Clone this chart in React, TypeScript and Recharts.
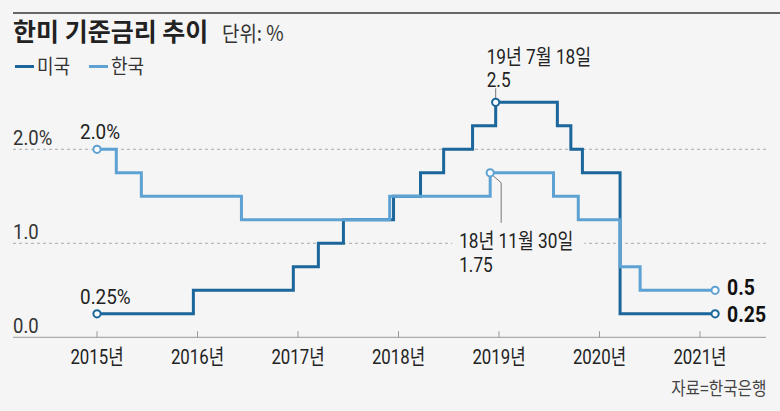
import React from "react";
import { LineChart, Line, XAxis, YAxis, CartesianGrid } from "recharts";

const usDates = ["2015-01-01", "2015-12-17", "2016-12-15", "2017-03-16", "2017-06-15", "2017-12-14", "2018-03-22", "2018-06-14", "2018-09-27", "2018-12-20", "2019-08-01", "2019-09-19", "2019-10-31", "2020-03-16", "2021-02-25"];
const usRates = [0.25, 0.5, 0.75, 1.0, 1.25, 1.5, 1.75, 2.0, 2.25, 2.5, 2.25, 2.0, 1.75, 0.25, 0.25];

const krDates = ["2015-01-01", "2015-03-12", "2015-06-11", "2016-06-09", "2017-11-30", "2018-11-30", "2019-07-18", "2019-10-16", "2020-03-16", "2020-05-28", "2021-02-25"];
const krRates = [2.0, 1.75, 1.5, 1.25, 1.5, 1.75, 1.5, 1.25, 0.75, 0.5, 0.5];

const yearTicks = [2015, 2016, 2017, 2018, 2019, 2020, 2021];
const yTicks = [0, 1, 2];
const yTickLabels = ["0.0", "1.0", "2.0%"];

const usName = "미국";
const krName = "한국";
const usPeakIndex = 9;
const krPeakIndex = 5;
const usPeakLabel = ["19년 7월 18일", "2.5"];
const krPeakLabel = ["18년 11월 30일", "1.75"];
const usStartLabel = "0.25%";
const krStartLabel = "2.0%";
const usEndLabelText = "0.25";
const krEndLabelText = "0.5";

const BG = "#f5f5f5";
const US_COLOR = "#1b669b";
const KR_COLOR = "#5ea2d4";
const NUM_FONT = "Roboto, 'Noto Sans CJK KR', sans-serif";
const KR_FONT = "'Noto Sans CJK KR', 'Noto Sans', sans-serif";
const SX = 0.82;

const toYear = (s: string) => {
  const [y, m, d] = s.split("-").map(Number);
  const start = Date.UTC(y, 0, 1);
  const end = Date.UTC(y + 1, 0, 1);
  return y + (Date.UTC(y, m - 1, d) - start) / (end - start);
};

const usData = usDates.map((d, i) => ({ t: toYear(d), v: usRates[i] }));
const krData = krDates.map((d, i) => ({ t: toYear(d), v: krRates[i] }));

const CText = ({ x, y, size = 21, anchor = "start", weight = "normal", fill = "#222", sx = SX, children }: any) => (
  <text
    transform={`translate(${x} ${y}) scale(${sx} 1)`}
    x={0}
    y={0}
    textAnchor={anchor}
    fontSize={size}
    fontWeight={weight}
    fontFamily={NUM_FONT}
    fill={fill}
    dominantBaseline="central"
  >
    {children}
  </text>
);

const Marker = ({ cx, cy, color }: any) => (
  <circle cx={cx} cy={cy} r={3.6} fill="#ffffff" stroke={color} strokeWidth={2} />
);

const usDot = (props: any) => {
  const { cx, cy, index } = props;
  const last = usData.length - 1;
  if (index === 0) {
    return (
      <g key={`us-${index}`}>
        <Marker cx={cx} cy={cy} color={US_COLOR} />
        <CText x={cx - 17} y={cy - 17} sx={0.9}>{usStartLabel}</CText>
      </g>
    );
  }
  if (index === usPeakIndex) {
    return (
      <g key={`us-${index}`}>
        <line x1={cx} x2={cx} y1={cy - 14} y2={cy - 4} stroke="#777" strokeWidth={1} />
        <Marker cx={cx} cy={cy} color={US_COLOR} />
        <CText x={cx - 9} y={cy - 45}>{usPeakLabel[0]}</CText>
        <CText x={cx - 9} y={cy - 22}>{usPeakLabel[1]}</CText>
      </g>
    );
  }
  if (index === last) {
    return (
      <g key={`us-${index}`}>
        <Marker cx={cx} cy={cy} color={US_COLOR} />
        <CText x={cx + 12} y={cy + 1} size={22} weight="bold" fill="#111" sx={0.88}>{usEndLabelText}</CText>
      </g>
    );
  }
  return <g key={`us-${index}`} />;
};

const krDot = (props: any) => {
  const { cx, cy, index } = props;
  const last = krData.length - 1;
  if (index === 0) {
    return (
      <g key={`kr-${index}`}>
        <Marker cx={cx} cy={cy} color={KR_COLOR} />
        <CText x={cx - 17} y={cy - 18} sx={0.9}>{krStartLabel}</CText>
      </g>
    );
  }
  if (index === krPeakIndex) {
    return (
      <g key={`kr-${index}`}>
        <rect x={cx - 38} y={cy + 57} width={132} height={22} fill={BG} />
        <polyline points={`${cx + 2.5},${cy + 2.5} ${cx + 11},${cy + 10} ${cx + 11},${cy + 50}`} fill="none" stroke="#777" strokeWidth={1} />
        <Marker cx={cx} cy={cy} color={KR_COLOR} />
        <CText x={cx - 31} y={cy + 68}>{krPeakLabel[0]}</CText>
        <CText x={cx - 31} y={cy + 92}>{krPeakLabel[1]}</CText>
      </g>
    );
  }
  if (index === last) {
    return (
      <g key={`kr-${index}`}>
        <Marker cx={cx} cy={cy} color={KR_COLOR} />
        <CText x={cx + 12} y={cy - 3} size={22} weight="bold" fill="#111" sx={0.88}>{krEndLabelText}</CText>
      </g>
    );
  }
  return <g key={`kr-${index}`} />;
};

const XTick = (props: any) => {
  const { x, y, payload } = props;
  return (
    <g>
      <line x1={x} x2={x} y1={y - 6} y2={y} stroke="#999" strokeWidth={1} />
      <CText x={x} y={y + 20} anchor="middle" sx={0.8}>{`${payload.value}년`}</CText>
    </g>
  );
};

const YTick = (props: any) => {
  const { y, payload } = props;
  const i = yTicks.indexOf(payload.value);
  return <CText x={13} y={y - 11} fill="#333" sx={0.88}>{yTickLabels[i]}</CText>;
};

export default function App() {
  return (
    <div style={{ position: "absolute", left: 0, top: 0, width: 780, height: 411, background: BG, overflow: "hidden" }}>
      <div style={{ position: "absolute", left: 13, right: 0, top: 12, height: 1.5, background: "#666" }} />
      <div style={{ position: "absolute", left: 13, top: 16, fontFamily: KR_FONT, fontSize: 25, fontWeight: 700, color: "#222", lineHeight: "28px", whiteSpace: "nowrap" }}>
        한미 기준금리 추이
      </div>
      <div style={{ position: "absolute", left: 222, top: 19, fontFamily: KR_FONT, fontSize: 21, color: "#333", lineHeight: "26px", whiteSpace: "nowrap", transform: "scaleX(0.9)", transformOrigin: "left center" }}>
        단위: %
      </div>
      <div style={{ position: "absolute", left: 15, top: 53, display: "flex", alignItems: "center", fontFamily: KR_FONT, fontSize: 20, color: "#333", lineHeight: "26px", whiteSpace: "nowrap" }}>
        <span style={{ display: "inline-block", width: 19, height: 3, background: US_COLOR, marginRight: 3 }} />
        <span style={{ display: "inline-block", width: 35, overflow: "visible" }}>
          <span style={{ display: "inline-block", transform: "scaleX(0.9)", transformOrigin: "left center" }}>{usName}</span>
        </span>
        <span style={{ display: "inline-block", width: 19, height: 3, background: KR_COLOR, marginLeft: 17, marginRight: 3 }} />
        <span style={{ display: "inline-block", transform: "scaleX(0.9)", transformOrigin: "left center" }}>{krName}</span>
      </div>
      <div style={{ position: "absolute", right: 14, top: 375, fontFamily: KR_FONT, fontSize: 18, color: "#444", lineHeight: "24px", whiteSpace: "nowrap", transform: "scaleX(0.87)", transformOrigin: "right center" }}>
        자료=한국은행
      </div>
      <div style={{ position: "absolute", left: 0, top: 0 }}>
        <LineChart width={780} height={411} margin={{ top: 55.3, left: 12, right: 14, bottom: 43.7 }}>
          <CartesianGrid horizontal={true} vertical={false} horizontalValues={[1, 2]} stroke="#aaa" strokeDasharray="3 3" />
          <XAxis
            type="number"
            dataKey="t"
            domain={[2014.164, 2021.657]}
            ticks={yearTicks}
            height={30}
            tickSize={0}
            tickMargin={0}
            tickLine={false}
            axisLine={{ stroke: "#999", strokeWidth: 1 }}
            tick={<XTick />}
            interval={0}
          />
          <YAxis
            type="number"
            domain={[0, 3]}
            ticks={yTicks}
            width={1}
            tickSize={0}
            tickMargin={0}
            tickLine={false}
            axisLine={false}
            tick={<YTick />}
            interval={0}
          />
          <Line data={usData} dataKey="v" type="stepAfter" stroke={US_COLOR} strokeWidth={3} dot={usDot} activeDot={false} isAnimationActive={false} strokeLinejoin="miter" />
          <Line data={krData} dataKey="v" type="stepAfter" stroke={KR_COLOR} strokeWidth={3} dot={krDot} activeDot={false} isAnimationActive={false} strokeLinejoin="miter" />
        </LineChart>
      </div>
    </div>
  );
}
